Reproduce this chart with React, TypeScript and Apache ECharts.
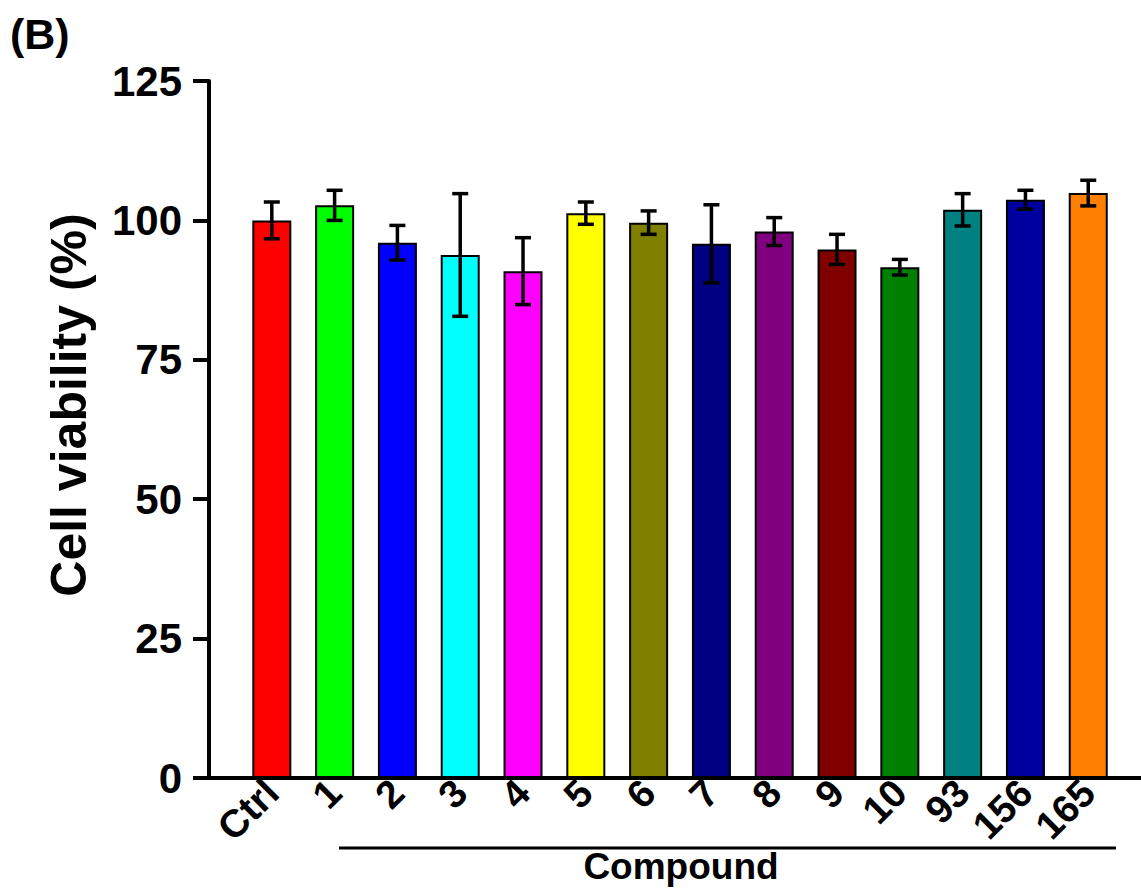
import React, { useEffect, useRef } from "react";
import * as echarts from "echarts";

// Compounds tested, with mean cell viability (%) and its error
const categories = ["Ctrl", "1", "2", "3", "4", "5", "6", "7", "8", "9", "10", "93", "156", "165"];
const viability = [100, 102.7, 96.0, 93.8, 90.9, 101.3, 99.6, 95.8, 98.0, 94.8, 91.6, 101.9, 103.7, 104.9];
const errors = [3.3, 2.7, 3.1, 11.0, 6.0, 2.0, 2.1, 7.0, 2.5, 2.7, 1.4, 2.9, 1.7, 2.3];
const barColors = [
  "#FF0000", "#00FF00", "#0000FF", "#00FFFF", "#FF00FF", "#FFFF00", "#808000",
  "#000080", "#800080", "#800000", "#008000", "#008080", "#0000A0", "#FF8000",
];
const yTicks = [0, 25, 50, 75, 100, 125];

const FONT = "'Liberation Sans', Arial, sans-serif";

export default function App() {
  const ref = useRef<HTMLDivElement>(null);

  useEffect(() => {
    if (!ref.current) return;
    const chart = echarts.init(ref.current, null, { renderer: "svg" });

    const barData = viability.map((v, i) => ({
      value: [i, v],
      itemStyle: { color: barColors[i] },
    }));
    const errData = viability.map((v, i) => [i, v - errors[i], v + errors[i]]);

    chart.setOption({
      animation: false,
      backgroundColor: "#ffffff",
      grid: { left: 209, right: 0, top: 81, bottom: 113, containLabel: false },
      xAxis: {
        type: "value",
        min: -1,
        max: 13.84,
        interval: 1,
        splitLine: { show: false },
        axisLine: { show: true, onZero: false, lineStyle: { color: "#000", width: 4 } },
        axisTick: { show: false },
        axisLabel: {
          rotate: 45,
          margin: 8,
          showMaxLabel: false,
          fontFamily: FONT,
          fontWeight: "bold",
          fontSize: 39,
          color: "#000",
          formatter: (v: number) =>
            Number.isInteger(v) && v >= 0 && v < categories.length ? categories[v] : "",
        },
      },
      yAxis: {
        type: "value",
        min: 0,
        max: 125,
        interval: 25,
        splitLine: { show: false },
        axisLine: { show: true, onZero: false, lineStyle: { color: "#000", width: 4 } },
        axisTick: { show: true, inside: false, length: 16, lineStyle: { color: "#000", width: 4 } },
        axisLabel: {
          margin: 27,
          fontFamily: FONT,
          fontWeight: "bold",
          fontSize: 42,
          color: "#000",
          formatter: (v: number) => (yTicks.includes(v) ? String(v) : ""),
        },
      },
      series: [
        {
          type: "bar",
          data: barData,
          barWidth: 39,
          itemStyle: { borderColor: "#000", borderWidth: 2 },
          z: 2,
        },
        {
          type: "custom",
          data: errData,
          z: 3,
          renderItem: (params: any, api: any) => {
            const x = api.value(0);
            const lo = api.coord([x, api.value(1)]);
            const hi = api.coord([x, api.value(2)]);
            const cap = 8;
            const style = { stroke: "#000", lineWidth: 3.5 };
            return {
              type: "group",
              children: [
                { type: "line", shape: { x1: hi[0], y1: hi[1], x2: lo[0], y2: lo[1] }, style },
                { type: "line", shape: { x1: hi[0] - cap, y1: hi[1], x2: hi[0] + cap, y2: hi[1] }, style },
                { type: "line", shape: { x1: lo[0] - cap, y1: lo[1], x2: lo[0] + cap, y2: lo[1] }, style },
              ],
            };
          },
        },
      ],
      graphic: [
        {
          type: "text",
          left: 10,
          top: 12,
          style: { text: "(B)", fontFamily: FONT, fontWeight: "bold", fontSize: 43, fill: "#000" },
        },
        {
          type: "text",
          x: 69,
          y: 405,
          rotation: Math.PI / 2,
          style: {
            text: "Cell viability (%)",
            fontFamily: FONT,
            fontWeight: "bold",
            fontSize: 50,
            fill: "#000",
            align: "center",
            verticalAlign: "middle",
          },
        },
        {
          type: "line",
          shape: { x1: 339, y1: 848, x2: 1116, y2: 848 },
          style: { stroke: "#000", lineWidth: 3 },
        },
        {
          type: "text",
          x: 681,
          y: 866,
          style: {
            text: "Compound",
            fontFamily: FONT,
            fontWeight: "bold",
            fontSize: 37,
            fill: "#000",
            align: "center",
            verticalAlign: "middle",
          },
        },
      ],
    });

    return () => chart.dispose();
  }, []);

  return (
    <div
      ref={ref}
      style={{ position: "fixed", left: 0, top: 0, width: 1141, height: 891, background: "#fff" }}
    />
  );
}
